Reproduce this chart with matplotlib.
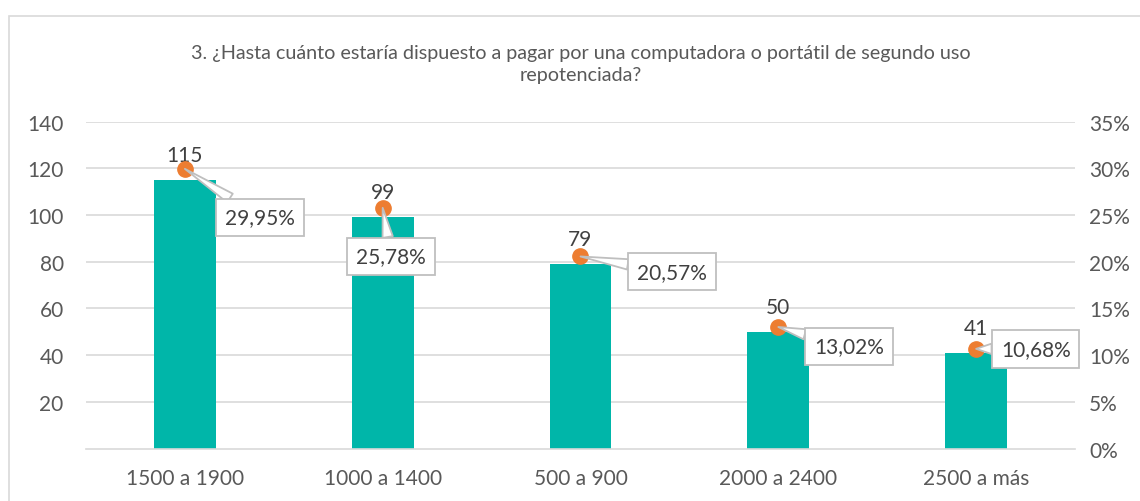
import matplotlib.pyplot as plt
from matplotlib.patches import Rectangle

plt.rcParams['font.family'] = ['Lato', 'DejaVu Sans']

## Datos
categorias = ['1500 a 1900', '1000 a 1400', '500 a 900', '2000 a 2400', '2500 a más']
cantidad = [115, 99, 79, 50, 41]
porcentaje = [29.95, 25.78, 20.57, 13.02, 10.68]
etiquetas_pct = ['29,95%', '25,78%', '20,57%', '13,02%', '10,68%']
titulo = '3. ¿Hasta cuánto estaría dispuesto a pagar por una computadora o portátil de segundo uso\nrepotenciada?'

# desplazamiento de cada recuadro respecto al punto (en puntos)
desp = [(54, -35), (6, -35), (66, -11), (51, -14), (43, 0)]

gris = '#595959'
fs = 15
fig = plt.figure(figsize=(11.4, 5.02), dpi=100)
ax = fig.add_axes([0.0754, 0.1044, 0.8676, 0.6512])
ax2 = ax.twinx()

# marco del grafico
fig.patches.append(Rectangle((9 / 1140, 1 - 520 / 502), 1.2, 503 / 502, transform=fig.transFigure,
                             fill=False, ec='#D9D9D9', lw=1.2))

x = range(len(categorias))
ax.bar(x, cantidad, width=0.313, color='#00B6A9', zorder=2)
ax.set_xlim(-0.5, 4.5)
ax.set_ylim(0, 140)
ax.set_yticks(range(20, 141, 20))
ax.set_xticks(list(x))
ax.set_xticklabels(categorias)
ax.yaxis.grid(True, color='#D9D9D9', lw=1.2)
ax.set_axisbelow(True)
for s in ['top', 'left', 'right']:
    ax.spines[s].set_visible(False)
ax.spines['bottom'].set_color('#D9D9D9')
ax.spines['bottom'].set_linewidth(1.2)
ax.tick_params(axis='both', length=0, colors=gris, labelsize=fs)
ax.tick_params(axis='y', pad=16)
ax.tick_params(axis='x', pad=14)

for i, v in enumerate(cantidad):
    ax.annotate(str(v), (i, v), xytext=(0, 11), textcoords='offset points',
                ha='center', va='bottom', fontsize=fs, color='#404040')

ax2.set_ylim(0, 35)
ax2.set_yticks(range(0, 36, 5))
ax2.set_yticklabels(['%d%%' % t for t in range(0, 36, 5)])
for s in ax2.spines.values():
    s.set_visible(False)
ax2.tick_params(axis='y', length=0, colors=gris, labelsize=fs, pad=10)

ax2.plot(list(x), porcentaje, 'o', color='#ED7D31', markersize=11, zorder=3, linestyle='none')
for i, p in enumerate(porcentaje):
    ax2.annotate(etiquetas_pct[i], (i, p), xytext=desp[i], textcoords='offset points',
                 ha='center', va='center', fontsize=fs, color='#404040', zorder=4,
                 bbox=dict(boxstyle='square,pad=0.42', fc='white', ec='#BFBFBF', lw=1.3),
                 arrowprops=dict(arrowstyle='wedge,tail_width=0.5', fc='white', ec='#BFBFBF',
                                 lw=1.3, shrinkA=0, shrinkB=0))

ax.set_title(titulo, fontsize=14.2, color=gris, pad=30, linespacing=1.35)

plt.savefig('out.png', dpi=100)
